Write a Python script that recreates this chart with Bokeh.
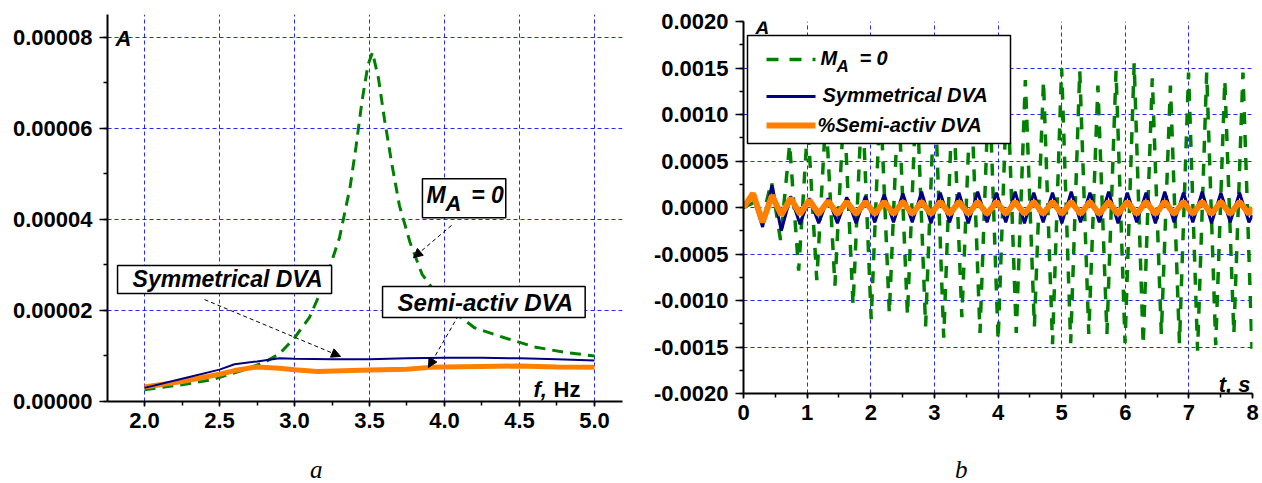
from bokeh.plotting import figure
from bokeh.layouts import row, column
from bokeh.models import (Range1d, SingleIntervalTicker, PrintfTickFormatter, Label, Div,
                          Arrow, NormalHead, BoxAnnotation)
from bokeh.embed import file_html
from bokeh.resources import INLINE

# ---------------- panel a: amplitude vs frequency ----------------
f_green = [2.0, 2.25, 2.45, 2.65, 2.8, 2.9, 3.0, 3.1, 3.2, 3.3, 3.37, 3.41, 3.45, 3.49, 3.52,
           3.56, 3.6, 3.65, 3.7, 3.77, 3.85, 3.95, 4.05, 4.2, 4.4, 4.6, 4.8, 5.0]
a_green = [2.6e-6, 3.7e-6, 4.8e-6, 6.8e-6, 8.6e-6, 1.05e-5, 1.4e-5, 1.85e-5, 2.6e-5, 3.6e-5,
           4.7e-5, 5.6e-5, 6.6e-5, 7.4e-5, 7.67e-5, 7.1e-5, 6.2e-5, 5.2e-5, 4.3e-5, 3.5e-5,
           2.8e-5, 2.35e-5, 2.0e-5, 1.62e-5, 1.4e-5, 1.2e-5, 1.08e-5, 1.0e-5]
f_blue = [2.0, 2.25, 2.5, 2.6, 2.75, 2.9, 3.0, 3.25, 3.5, 3.75, 4.0, 4.25, 4.5, 4.75, 5.0]
a_blue = [3.0e-6, 5.0e-6, 7.0e-6, 8.2e-6, 8.8e-6, 9.5e-6, 9.4e-6, 9.3e-6, 9.3e-6, 9.5e-6,
          9.6e-6, 9.6e-6, 9.5e-6, 9.3e-6, 9.0e-6]
f_orange = [2.0, 2.25, 2.5, 2.6, 2.75, 2.9, 3.0, 3.15, 3.5, 3.75, 3.9, 4.0, 4.25, 4.5, 4.75, 5.0]
a_orange = [3.2e-6, 4.4e-6, 6.0e-6, 6.8e-6, 7.6e-6, 7.3e-6, 7.0e-6, 6.6e-6, 6.9e-6, 7.1e-6,
            7.5e-6, 7.6e-6, 7.7e-6, 7.8e-6, 7.6e-6, 7.5e-6]

# ---------------- panel b: time response ----------------
t_b = [0.0, 0.15, 0.300, 0.447, 0.594, 0.741, 0.888, 1.035, 1.182, 1.329, 1.476, 1.623,
       1.770, 1.917, 2.064, 2.211, 2.358, 2.505, 2.652, 2.799, 2.946, 3.093, 3.240, 3.387,
       3.534, 3.681, 3.828, 3.975, 4.122, 4.269, 4.416, 4.563, 4.710, 4.857, 5.004, 5.151,
       5.298, 5.445, 5.592, 5.739, 5.886, 6.033, 6.180, 6.327, 6.474, 6.621, 6.768, 6.915,
       7.062, 7.209, 7.356, 7.503, 7.650, 7.797, 7.944, 8.0]
y_blue = [0.0, 0.00012, -0.00021, 0.00024, -0.00025, 0.00012, -0.00018, 0.00010, -0.00017,
          0.00010, -0.00017, 0.00011, -0.00017, 0.00012, -0.00016, 0.00014, -0.00016, 0.00015,
          -0.00016, 0.00017, -0.00017, 0.00016, -0.00016, 0.00016, -0.00017, 0.00017, -0.00016,
          0.00016, -0.00016, 0.00017, -0.00017, 0.00016, -0.00016, 0.00016, -0.00017, 0.00017,
          -0.00016, 0.00016, -0.00016, 0.00017, -0.00017, 0.00016, -0.00016, 0.00016, -0.00017,
          0.00017, -0.00016, 0.00016, -0.00016, 0.00017, -0.00017, 0.00016, -0.00016, 0.00016,
          -0.00016, -0.00008]
y_orange = [0.0, 0.00015, -0.00016, 0.00013, -0.00008, 0.00010, -0.00007, 0.00008, -0.00007,
            0.00007, -0.00007, 0.00006, -0.00007, 0.00006, -0.00007, 0.00006, -0.00007, 0.00006,
            -0.00007, 0.00006, -0.00007, 0.00006, -0.00007, 0.00006, -0.00007, 0.00006, -0.00007,
            0.00006, -0.00007, 0.00006, -0.00007, 0.00006, -0.00007, 0.00006, -0.00007, 0.00006,
            -0.00007, 0.00006, -0.00007, 0.00006, -0.00007, 0.00006, -0.00007, 0.00006, -0.00007,
            0.00006, -0.00007, 0.00006, -0.00007, 0.00006, -0.00007, 0.00006, -0.00007, 0.00006,
            -0.00007, 0.0]
t_g = [0.0, 0.15, 0.297, 0.440, 0.582, 0.725, 0.867, 1.010, 1.152, 1.295, 1.437, 1.580,
       1.722, 1.865, 2.007, 2.150, 2.292, 2.435, 2.577, 2.720, 2.862, 3.005, 3.147, 3.290,
       3.432, 3.575, 3.717, 3.860, 4.002, 4.145, 4.287, 4.430, 4.572, 4.715, 4.857, 5.000,
       5.142, 5.285, 5.427, 5.570, 5.712, 5.855, 5.997, 6.140, 6.282, 6.425, 6.567, 6.710,
       6.852, 6.995, 7.137, 7.280, 7.422, 7.565, 7.707, 7.850, 7.992]
y_green = [0.0, 0.00005, -0.00012, 0.00028, -0.00035, 0.00068, -0.00068, 0.0009, -0.00078,
           0.0010, -0.00084, 0.0011, -0.00105, 0.0012, -0.0012, 0.0012, -0.00114, 0.0012,
           -0.00116, 0.0013, -0.00128, 0.0013, -0.0014, 0.0013, -0.00118, 0.0013, -0.00135,
           0.0014, -0.00143, 0.0014, -0.00135, 0.00137, -0.00128, 0.00136, -0.00147, 0.0015,
           -0.00146, 0.00147, -0.00136, 0.00131, -0.00136, 0.00147, -0.00146, 0.00155, -0.00148,
           0.00139, -0.00136, 0.00131, -0.00146, 0.00145, -0.00154, 0.00145, -0.00148, 0.00137,
           -0.00136, 0.00145, -0.00152]

legend_labels = ["M\u00a0\u00a0\u00a0\u00a0= 0", "Symmetrical DVA", "%Semi-activ DVA"]

GREEN = "#008000"
BLUE = "#000080"
ORANGE = "#ff8000"
FONT = "Liberation Sans"


def style(p, xtick_int, ytick_int, xfmt, yfmt):
    xt = SingleIntervalTicker(interval=xtick_int, num_minor_ticks=2)
    yt = SingleIntervalTicker(interval=ytick_int, num_minor_ticks=2)
    p.xaxis.ticker = xt
    p.yaxis.ticker = yt
    p.xgrid.ticker = xt
    p.ygrid.ticker = yt
    p.xaxis.formatter = PrintfTickFormatter(format=xfmt)
    p.yaxis.formatter = PrintfTickFormatter(format=yfmt)
    for ax, out in ((p.xaxis, 5), (p.yaxis, 8)):
        ax.axis_line_width = 2
        ax.axis_line_color = "black"
        ax.major_tick_line_width = 1.5
        ax.minor_tick_line_width = 1.5
        ax.major_tick_out = out
        ax.major_tick_in = 0
        ax.minor_tick_out = 4
        ax.minor_tick_in = 0
        ax.major_label_text_font = FONT
        ax.major_label_text_font_style = "bold"
        ax.major_label_text_font_size = "22px"
        ax.major_label_text_color = "black"
    p.xaxis.major_label_standoff = 6
    p.yaxis.major_label_standoff = 7
    p.grid.grid_line_color = "#0000ff"
    p.grid.grid_line_dash = "4 3"
    p.grid.grid_line_width = 1
    p.grid.grid_line_alpha = 0.85
    p.outline_line_color = None
    p.background_fill_color = "white"
    p.border_fill_color = "white"
    p.frame_align = False


def plain(x, y, text, size="22px", style_="bold italic", **kw):
    return Label(x=x, y=y, text=text, text_font=FONT, text_font_style=style_,
                 text_font_size=size, text_color="black", **kw)


# ---------------- left figure ----------------
p1 = figure(width=630, height=457, output_backend="svg", toolbar_location=None,
            x_range=Range1d(1.753, 5.187), y_range=Range1d(0, 8.505e-5),
            min_border_left=107, min_border_right=8, min_border_top=14, min_border_bottom=56)
style(p1, 0.5, 0.00002, "%.1f", "%.5f")

p1.line(f_green, a_green, line_color=GREEN, line_width=3, line_dash="11 7")
p1.line(f_orange, a_orange, line_color=ORANGE, line_width=5)
p1.line(f_blue, a_blue, line_color=BLUE, line_width=2)

head = dict(size=9, fill_color="black", line_color="black", line_width=1)
p1.add_layout(Arrow(x_start=2.4, y_start=2.24e-5, x_end=3.307, y_end=0.99e-5,
                    line_color="black", line_width=1, line_dash="4 3", end=NormalHead(**head)))
p1.add_layout(Arrow(x_start=4.047, y_start=3.87e-5, x_end=3.793, y_end=3.16e-5,
                    line_color="black", line_width=1, line_dash="4 3", end=NormalHead(**head)))
p1.add_layout(Arrow(x_start=4.093, y_start=1.89e-5, x_end=3.893, y_end=0.747e-5,
                    line_color="black", line_width=1, line_dash="4 3", end=NormalHead(**head)))

box_style = dict(text_font=FONT, text_font_style="bold italic", text_color="black",
                 border_line_color="black", border_line_width=1.5,
                 background_fill_color="white", background_fill_alpha=1.0)
p1.add_layout(Label(x=1.82, y=2.374e-5, text="Symmetrical DVA", text_font_size="23px",
                    padding=dict(left=15, right=9, top=1, bottom=1), **box_style))
p1.add_layout(Label(x=3.587, y=1.846e-5, text="Semi-activ DVA", text_font_size="24px",
                    padding=dict(left=15, right=12, top=2, bottom=2), **box_style))
p1.add_layout(Label(x=3.853, y=4.04e-5, text="M\u00a0\u00a0\u00a0\u00a0= 0", text_font_size="23px",
                    padding=dict(left=4, right=2, top=3, bottom=10), **box_style))
p1.add_layout(plain(4.007, 4.073e-5, "A", level="overlay"))

p1.add_layout(plain(1.807, 7.699e-5, "A"))
p1.add_layout(plain(4.593, -1.5e-7, "f,"))
p1.add_layout(plain(4.727, -1.5e-7, "Hz", style_="bold"))

# ---------------- right figure ----------------
p2 = figure(width=632, height=457, output_backend="svg", toolbar_location=None,
            x_range=Range1d(0, 8), y_range=Range1d(-0.002, 0.002),
            min_border_left=113, min_border_right=10, min_border_top=21, min_border_bottom=64)
style(p2, 1, 0.0005, "%d", "%.4f")

p2.line(t_g, y_green, line_color=GREEN, line_width=3.5, line_dash="12 11")
p2.line(t_b, y_blue, line_color=BLUE, line_width=3)
p2.line(t_b, y_orange, line_color=ORANGE, line_width=6)

# legend drawn as annotations (screen units, relative to the plot frame)
p2.add_layout(BoxAnnotation(left=4, right=267, top=358, bottom=250, left_units="screen",
                            right_units="screen", top_units="screen", bottom_units="screen",
                            fill_color="white", fill_alpha=1.0, line_color="black",
                            line_width=1.5, line_alpha=1.0))
sample_style = [(334, GREEN, 3.5, "12 11"), (297, BLUE, 3, "solid"), (268, ORANGE, 6, "solid")]
for sy, col, lw, dash in sample_style:
    p2.add_layout(Arrow(x_start=23, y_start=sy, x_end=72, y_end=sy, start_units="screen",
                        end_units="screen", end=None, line_color=col, line_width=lw,
                        line_dash=dash))
for (sx, sy), txt in zip([(77, 324.6), (79, 287.6), (74, 257.6)], legend_labels):
    p2.add_layout(Label(x=sx, y=sy, x_units="screen", y_units="screen", text=txt,
                        text_font=FONT, text_font_style="bold italic",
                        text_font_size="20px", text_color="black"))
p2.add_layout(Label(x=93, y=318, x_units="screen", y_units="screen", text="A",
                    text_font=FONT, text_font_style="bold italic",
                    text_font_size="17px", text_color="black"))

p2.add_layout(plain(0.19, 0.001821, "A", size="19px", level="overlay"))
p2.add_layout(plain(7.47, -0.002041, "t, s"))

cap = ('<div style="margin-left:{m}px;font-family:\'Liberation Serif\';font-style:italic;'
       'font-size:25px;line-height:25px;color:black;">{t}</div>')
div_a = Div(text=cap.format(m=310, t="a"), width=630, height=26, margin=0)
div_b = Div(text=cap.format(m=325, t="b"), width=632, height=26, margin=0)

layout = column(row(p1, p2), row(div_a, div_b))
open("out.html", "w").write(file_html(layout, INLINE))
